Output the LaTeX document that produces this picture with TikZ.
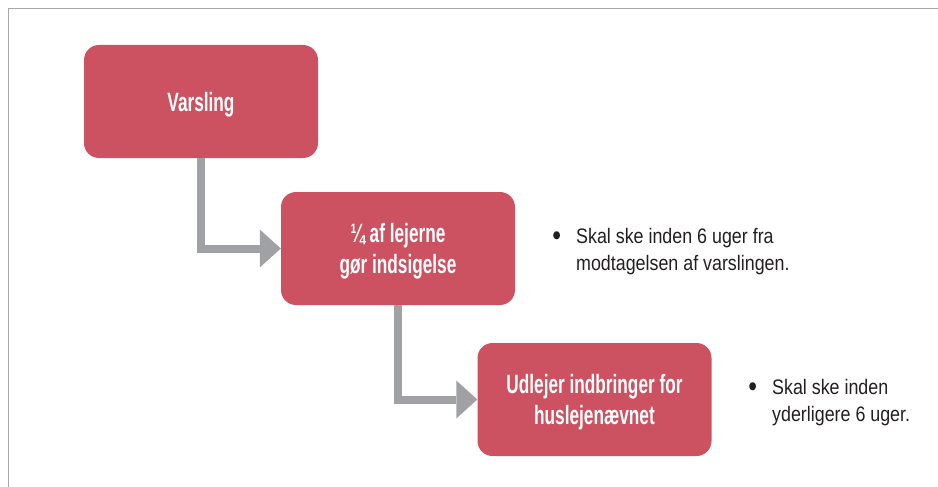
\documentclass[tikz,border=0pt]{standalone}
\usepackage{fontspec}
\setmainfont{Liberation Sans}
\newfontfamily\boxfont{Liberation Sans}[UprightFont=* Bold, FakeStretch=0.65]
\newfontfamily\notefont{Liberation Sans}[FakeStretch=0.85]
\usetikzlibrary{arrows.meta}

\definecolor{boxred}{RGB}{204,82,97}
\definecolor{flowgray}{RGB}{160,161,165}
\definecolor{framegray}{RGB}{168,168,168}
\definecolor{notetext}{RGB}{35,31,32}

\newcommand{\notedot}{\llap{\raisebox{-2pt}{\scalebox{1.4}{•}}\hspace{15pt}}}

\begin{document}
\begin{tikzpicture}[
    x=1pt, y=-1pt,
    stage/.style={fill=boxred, draw=none, rounded corners=15pt, text=white,
      minimum width=234pt, minimum height=113pt, inner sep=0pt, align=center,
      text depth=0pt, font=\boxfont\fontsize{26.5}{31}\selectfont},
    note/.style={anchor=base west, align=left, inner sep=0pt, text=notetext,
      font=\notefont\fontsize{21}{27}\selectfont},
    flow/.style={draw=flowgray, line width=8pt,
      -{Triangle[length=21pt, width=38pt, line width=0pt]}},
  ]
  \useasboundingbox (0,0) rectangle (938,487);

  % Frame
  \draw[framegray, line width=1.5pt] (8.5,487) -- (8.5,8.5) -- (938,8.5);

  % Steps
  \node[stage] (varsling) at (201,101.5) {Varsling};
  \node[stage] (indsigelse) at (398,248.5) {¼ af lejerne\\gør indsigelse};
  \node[stage] (udlejer) at (594.5,399.5) {Udlejer indbringer for\\huslejenævnet};

  % Notes (base = last line)
  \node[note] (frist1) at (576,270)
    {\notedot Skal ske inden 6 uger fra\\modtagelsen af varslingen.};
  \node[note] (frist2) at (772,421)
    {\notedot Skal ske inden\\yderligere 6 uger.};

  % Edges
  \draw[flow] (varsling) |- (indsigelse);
  \draw[flow] (indsigelse) |- (udlejer);
\end{tikzpicture}
\end{document}
